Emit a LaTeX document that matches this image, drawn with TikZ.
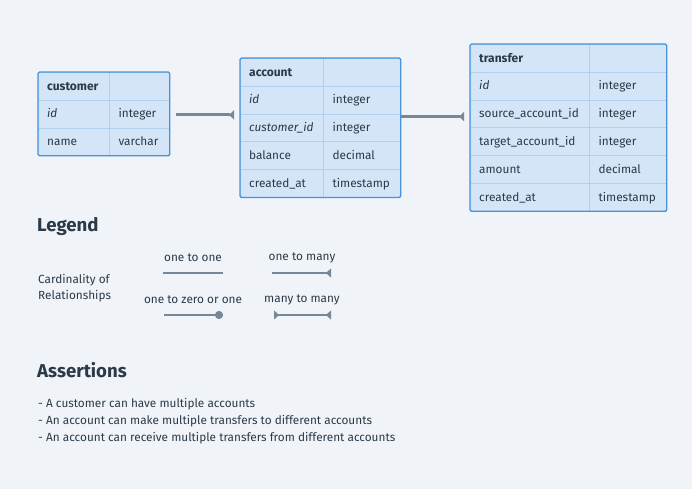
\documentclass[tikz,border=0pt]{standalone}
\usepackage{fontspec}
\setmainfont{Fira Sans}
\usetikzlibrary{arrows.meta}
\begin{document}
\begin{tikzpicture}[x=1pt, y=-1pt,
    cell/.style={draw=erdgrid, fill=erdfill, anchor=north west, text width=#1,
        align=left, inner xsep=9pt, inner ysep=0pt, minimum height=27.8pt,
        text height=9pt, text depth=1pt, text=erdtext, font=\fontsize{11.8}{14}\selectfont},
    headcell/.style={cell=#1, font=\fontsize{12}{14}\selectfont\bfseries},
    tableframe/.style={draw=erdblue, line width=1.3pt, rounded corners=1.5pt},
    rel/.style={draw=erdline, line width=2.8pt},
    many/.style={-{Triangle[reversed, length=5pt, width=9pt]}},
    legtext/.style={font=\fontsize{11.8}{16}\selectfont, text=erdtext, inner sep=0pt},
    heading/.style={font=\fontsize{18.6}{22}\selectfont\bfseries, text=erdtext, anchor=base west, inner sep=0pt}]
    % Define colors
    \definecolor{erdbg}{HTML}{F0F4F8}
    \definecolor{erdfill}{HTML}{D3E5F7}
    \definecolor{erdgrid}{HTML}{B0D0F0}
    \definecolor{erdblue}{HTML}{4A92DC}
    \definecolor{erdtext}{HTML}{2B3A48}
    \definecolor{erdline}{HTML}{768797}

    % Background
    \fill[erdbg] (0,0) rectangle (692,489);

    % customer table
    \node[headcell=53pt] (cust-h) at (38,72) {customer};
    \node[cell=42pt] (cust-h-t) at (cust-h.north east) {};
    \foreach \k/\f/\t [count=\i] in {id/\textit{id}/integer, name/name/varchar} {
        \node[cell=53pt] (cust-\k) at (38,{72+27.8*\i}) {\f};
        \node[cell=42pt] (cust-\k-t) at (cust-\k.north east) {\t};
    }
    \draw[tableframe] (cust-h.north west) rectangle (cust-name-t.south east);

    % account table
    \node[headcell=65pt] (acct-h) at (240,58) {account};
    \node[cell=59pt] (acct-h-t) at (acct-h.north east) {};
    \foreach \k/\f/\t [count=\i] in {id/\textit{id}/integer, cid/\textit{customer\_id}/integer,
        bal/balance/decimal, cat/created\_at/timestamp} {
        \node[cell=65pt] (acct-\k) at (240,{58+27.8*\i}) {\f};
        \node[cell=59pt] (acct-\k-t) at (acct-\k.north east) {\t};
    }
    \draw[tableframe] (acct-h.north west) rectangle (acct-cat-t.south east);

    % transfer table
    \node[headcell=101pt] (trans-h) at (470,44) {transfer};
    \node[cell=59pt] (trans-h-t) at (trans-h.north east) {};
    \foreach \k/\f/\t [count=\i] in {id/\textit{id}/integer, src/source\_account\_id/integer,
        tgt/target\_account\_id/integer, amt/amount/decimal, cat/created\_at/timestamp} {
        \node[cell=101pt] (trans-\k) at (470,{44+27.8*\i}) {\f};
        \node[cell=59pt] (trans-\k-t) at (trans-\k.north east) {\t};
    }
    \draw[tableframe] (trans-h.north west) rectangle (trans-cat-t.south east);

    % Relationships
    \draw[rel, many, shorten <=6pt, shorten >=6pt]
        ([yshift=-1pt]cust-id-t.east) -- ([yshift=-1pt]cust-id-t.east -| acct-h.west);
    \draw[rel, many, shorten >=6pt]
        ([yshift=-3pt]acct-cid-t.north east) -- ([yshift=-3pt]acct-cid-t.north east -| trans-h.west);

    % Legend
    \node[heading] (legend) at (37,231) {Legend};
    \node[legtext, anchor=west, align=left] (card) at (38,288) {Cardinality of\\Relationships};

    \node[legtext] (l-oo) at (193,258) {one to one};
    \coordinate (oo-a) at (163,273);
    \coordinate (oo-b) at (223,273);
    \draw[rel] (oo-a) -- (oo-b);

    \node[legtext] (l-om) at (302,258) {one to many};
    \coordinate (om-a) at (272,273);
    \coordinate (om-b) at (331,273);
    \draw[rel, many] (om-a) -- (om-b);

    \node[legtext] (l-oz) at (193,300) {one to zero or one};
    \coordinate (oz-a) at (164,315);
    \coordinate (oz-b) at (223,315);
    \draw[rel, -{Circle[length=8pt]}] (oz-a) -- (oz-b);

    \node[legtext] (l-mm) at (302,300) {many to many};
    \coordinate (mm-a) at (274,315);
    \coordinate (mm-b) at (331,315);
    \draw[rel, {Triangle[reversed, length=5pt, width=9pt]}-{Triangle[reversed, length=5pt, width=9pt]}]
        (mm-a) -- (mm-b);

    % Assertions
    \node[heading] (assert) at (37,377) {Assertions};
    \node[legtext, anchor=north west, align=left, font=\fontsize{11.8}{17}\selectfont] (assert-list) at (38,398)
        {- A customer can have multiple accounts\\
         - An account can make multiple transfers to different accounts\\
         - An account can receive multiple transfers from different accounts};
\end{tikzpicture}
\end{document}
